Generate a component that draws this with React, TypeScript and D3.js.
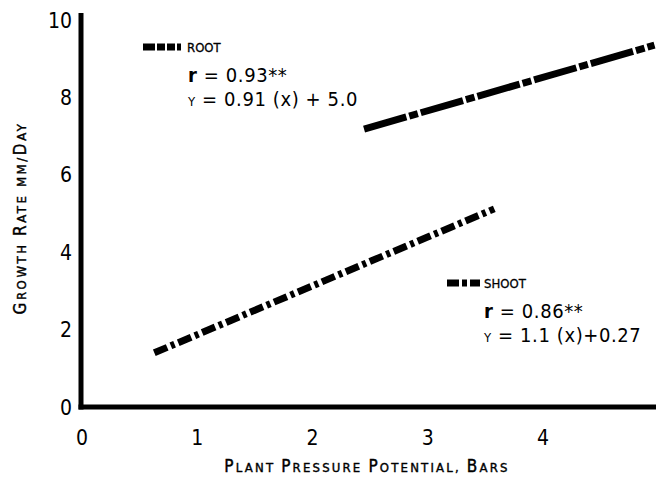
import React from "react";
import * as d3 from "d3";

// values
const xTicks = [0, 1, 2, 3, 4];
const yTicks = [0, 2, 4, 6, 8, 10];
const rootLine: [number, number][] = [
  [2.43, 7.18],
  [4.95, 9.35],
];
const shootLine: [number, number][] = [
  [0.61, 1.4],
  [3.56, 5.12],
];

const FONT = "'DejaVu Sans Condensed', 'DejaVu Sans', sans-serif";

// [text, isBig] pieces for the small-caps titles
const xTitle: [string, boolean][] = [
  ["P", true], ["LANT ", false], ["P", true], ["RESSURE ", false],
  ["P", true], ["OTENTIAL, ", false], ["B", true], ["ARS", false],
];
const yTitle: [string, boolean][] = [
  ["G", true], ["ROWTH ", false], ["R", true], ["ATE ", false],
  ["MM/", false], ["D", true], ["AY", false],
];

const Caps = ({ parts, big, small }: { parts: [string, boolean][]; big: number; small: number }) => (
  <>
    {parts.map(([s, b], i) => (
      <tspan key={i} fontSize={b ? big : small}>
        {s}
      </tspan>
    ))}
  </>
);

const App = () => {
  const width = 656;
  const height = 478;
  const x = d3.scaleLinear().domain([0, 4]).range([84, 545]);
  const y = d3.scaleLinear().domain([0, 10]).range([407, 20]);
  const line = d3
    .line<[number, number]>()
    .x((d) => x(d[0]))
    .y((d) => y(d[1]));

  const axisX = 81;
  const axisY = 407;

  return (
    <svg
      width={width}
      height={height}
      style={{ position: "absolute", left: 0, top: 0, background: "#fff" }}
      fontFamily={FONT}
    >
      {/* axes */}
      <line x1={axisX} x2={axisX} y1={13} y2={axisY + 2.5} stroke="#000" strokeWidth={5} />
      <line x1={axisX - 2.5} x2={656} y1={axisY} y2={axisY} stroke="#000" strokeWidth={5} />

      {/* tick labels */}
      {yTicks.map((t) => (
        <text key={t} x={72} y={y(t)} dy="0.36em" textAnchor="end" fontSize={21} fill="#000">
          {t}
        </text>
      ))}
      {xTicks.map((t) => (
        <text key={t} x={x(t) - 2} y={437} dy="0.36em" textAnchor="middle" fontSize={21} fill="#000">
          {t}
        </text>
      ))}

      {/* axis titles */}
      <text x={367} y={472} textAnchor="middle" fill="#000" letterSpacing={2.2} stroke="#000" strokeWidth={0.4}>
        <Caps parts={xTitle} big={17} small={13} />
      </text>
      <text
        transform="translate(26,218) rotate(-90)"
        textAnchor="middle"
        fill="#000"
        letterSpacing={2.6}
        stroke="#000"
        strokeWidth={0.4}
      >
        <Caps parts={yTitle} big={17} small={13} />
      </text>

      {/* data lines */}
      <path
        d={line(rootLine) ?? ""}
        fill="none"
        stroke="#000"
        strokeWidth={7}
        strokeDasharray="44 3 9 3"
      />
      <path
        d={line(shootLine) ?? ""}
        fill="none"
        stroke="#000"
        strokeWidth={7}
        strokeDasharray="14 4 4 4"
      />

      {/* root legend */}
      <line x1={143} x2={181} y1={47} y2={47} stroke="#000" strokeWidth={7} strokeDasharray="12 2 8 2 8 2 8" />
      <text x={187} y={52} fontSize={13} fill="#000" stroke="#000" strokeWidth={0.3}>ROOT</text>
      <text x={188} y={82} fontSize={20} fill="#000" letterSpacing={0.6}>
        <tspan fontWeight="bold">r</tspan>
        <tspan fontWeight="normal"> = 0.93**</tspan>
      </text>
      <text x={188} y={106} fontSize={20} fill="#000" letterSpacing={0.6}>
        <tspan fontSize={13}>Y</tspan>
        <tspan> = 0.91 (x) + 5.0</tspan>
      </text>

      {/* shoot legend */}
      <line x1={447} x2={480} y1={283} y2={283} stroke="#000" strokeWidth={7} strokeDasharray="12 3 5 3 12" />
      <text x={484} y={288} fontSize={13} fill="#000" stroke="#000" strokeWidth={0.3}>SHOOT</text>
      <text x={484} y={318} fontSize={20} fill="#000" letterSpacing={0.6}>
        <tspan fontWeight="bold">r</tspan>
        <tspan fontWeight="normal"> = 0.86**</tspan>
      </text>
      <text x={484} y={342} fontSize={20} fill="#000" letterSpacing={0.6}>
        <tspan fontSize={13}>Y</tspan>
        <tspan> = 1.1 (x)+0.27</tspan>
      </text>
    </svg>
  );
};

export default App;
